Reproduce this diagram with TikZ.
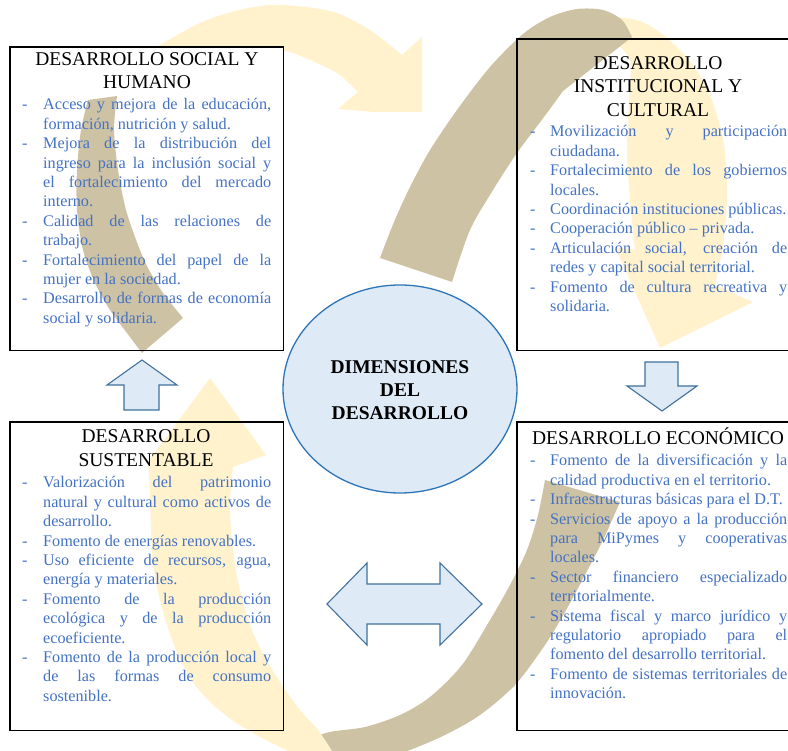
\documentclass[tikz,border=0pt]{standalone}
\usepackage{fontspec}
\setmainfont{Liberation Serif}
\usetikzlibrary{shapes.geometric}
\definecolor{yel}{RGB}{255,242,204}
\definecolor{tanc}{RGB}{205,194,163}
\definecolor{bodyblue}{RGB}{68,114,196}
\definecolor{lblue}{RGB}{222,235,247}
\definecolor{arrowedge}{RGB}{65,113,156}
\definecolor{elledge}{RGB}{46,117,182}
\newlength\jw
\newcommand\J[1]{\makebox[\jw][s]{#1}}
\tikzset{
  boxline/.style={draw=black, line width=1.5pt},
  ttl/.style={anchor=base, inner sep=0pt, font=\fontsize{19.5}{23}\selectfont},
  ctr/.style={anchor=base, inner sep=0pt, font=\bfseries\fontsize{19.5}{23}\selectfont},
  body/.style={anchor=base west, inner sep=0pt, text=bodyblue, font=\fontsize{16.2}{19.4}\selectfont},
  blk/.style={fill=lblue, draw=arrowedge, line width=1.1pt, line join=miter},
}
\begin{document}
\begin{tikzpicture}[x=1pt,y=-1pt]
\useasboundingbox (0,0) rectangle (788,751);
\clip (0,0) rectangle (788,751);
\fill[white] (0,0) rectangle (788,751);

% yellow top band (clipped head)
\begin{scope}
\clip (0,0) rectangle (422,112);
\fill[yel] plot[smooth] coordinates {(150,52) (165,42) (200,23) (235,11) (270,5) (305,7) (337,13) (370,30) (402,55)}
  -- (422,37) -- (447,118) -- (338,109)
  -- plot[smooth] coordinates {(358,92) (337,73) (303,57) (283,51) (250,56) (200,72) (160,92)} -- cycle;
\end{scope}

% boxes (fill of top-left hides the yellow band)
\node[fill=white, draw=none, inner sep=0pt, minimum width=273pt, minimum height=303pt, anchor=north west] (tl) at (10,47) {};
\node[draw=none, inner sep=0pt, minimum width=283pt, minimum height=311pt, anchor=north west] (tr) at (517,39) {};
\node[draw=none, inner sep=0pt, minimum width=273pt, minimum height=308pt, anchor=north west] (bl) at (10,422) {};
\node[draw=none, inner sep=0pt, minimum width=283pt, minimum height=308pt, anchor=north west] (br) at (517,422) {};

% tan left band
\fill[tanc] plot[smooth] coordinates {(88,100) (81,130) (77,170) (77,210) (83,250) (95,283) (110,310) (127,333)}
  -- (142,353) -- (183,318)
  -- plot[smooth] coordinates {(183,318) (163,293) (148,268) (138,245) (126,210) (118,170) (114,130) (117,96)} -- cycle;

% yellow right band
\fill[yel] plot[smooth] coordinates {(605,16) (640,21) (667,38) (693,65) (712,100) (724,145) (727,195) (723,245) (715,285)}
  -- (753,302) -- (660,348) -- (615,247) -- (635,250)
  -- plot[smooth] coordinates {(635,250) (630,200) (627,150) (629,100) (630,60) (612,40)} -- cycle;

% tan top-right band
\fill[tanc] plot[smooth] coordinates {(380,258) (394,222) (410,187) (430,150) (457,110) (490,67) (523,34) (550,17) (577,9) (603,10) (622,20) (632,37)}
  -- (563,91)
  -- plot[smooth] coordinates {(563,91) (544,117) (517,153) (493,190) (470,230) (452,282)} -- cycle;

% tan bottom band
\fill[tanc] plot[smooth] coordinates {(545,480) (538,515) (527,550) (510,585) (490,620) (462,665) (430,697) (400,715) (365,727) (330,732) (310,740) (300,760)}
  -- (380,760)
  -- plot[smooth] coordinates {(380,760) (410,750) (445,735) (480,715) (515,685) (545,645) (565,612) (585,575) (603,540) (620,502)} -- cycle;

% yellow bottom-left band
\fill[yel] (210,378) -- (266,455) -- (233,467)
  -- plot[smooth] coordinates {(233,467) (230,500) (231,530) (235,565) (241,595) (250,625) (262,652) (280,682) (300,710) (318,730) (332,751) (340,765)}
  -- (310,765)
  -- plot[smooth] coordinates {(310,765) (290,752) (262,738) (235,722) (210,702) (190,678) (178,655) (168,628) (160,600) (153,565) (151,530) (150,490)}
  -- (148,462) -- cycle;

% box borders
\draw[boxline] (tl.north west) rectangle (tl.south east);
\draw[boxline] (tr.north west) rectangle (tr.south east);
\draw[boxline] (bl.north west) rectangle (bl.south east);
\draw[boxline] (br.north west) rectangle (br.south east);

% centre ellipse
\node[ellipse, fill=lblue, draw=elledge, line width=1.3pt, minimum width=234pt, minimum height=208pt, inner sep=0pt] (ctr) at (400,389) {};
\node[ctr] (c1) at (400,374) {DIMENSIONES};
\node[ctr] (c2) at (400,397) {DEL};
\node[ctr] (c3) at (400,420) {DESARROLLO};

% block arrows
\draw[blk] (142,360) -- (177,385) -- (159,385) -- (159,410) -- (124,410) -- (124,385) -- (107,385) -- cycle;
\draw[blk] (662,411) -- (697,386) -- (678,386) -- (678,362) -- (645,362) -- (645,386) -- (627,386) -- cycle;
\draw[blk] (327,604) -- (367,563) -- (367,584) -- (440,584) -- (440,563) -- (482,604) -- (440,645) -- (440,624) -- (367,624) -- (367,645) -- cycle;

% titles
\node[ttl] (tlt1) at (147,66) {DESARROLLO SOCIAL Y};
\node[ttl] (tlt2) at (147,89) {HUMANO};
\node[ttl] (trt1) at (658,70) {DESARROLLO};
\node[ttl] (trt2) at (658,93) {INSTITUCIONAL Y};
\node[ttl] (trt3) at (658,117) {CULTURAL};
\node[ttl] (blt1) at (146,443) {DESARROLLO};
\node[ttl] (blt2) at (146,467) {SUSTENTABLE};
\node[ttl] (brt1) at (658,445) {DESARROLLO ECONÓMICO};

% bodies
\node[body] (tlb) at (22,110) {\setlength\jw{228pt}\begin{tabular}[t]{@{}p{21pt}@{}l@{}}
- & \J{Acceso y mejora de la educación,}\\
  & formación, nutrición y salud.\\
- & \J{Mejora de la distribución del}\\
  & \J{ingreso para la inclusión social y}\\
  & \J{el fortalecimiento del mercado}\\
  & interno.\\
- & \J{Calidad de las relaciones de}\\
  & trabajo.\\
- & \J{Fortalecimiento del papel de la}\\
  & mujer en la sociedad.\\
- & \J{Desarrollo de formas de economía}\\
  & social y solidaria.
\end{tabular}};

\node[body] (trb) at (530,137) {\setlength\jw{237pt}\begin{tabular}[t]{@{}p{20pt}@{}l@{}}
- & \J{Movilización y participación}\\
  & ciudadana.\\
- & \J{Fortalecimiento de los gobiernos}\\
  & locales.\\
- & Coordinación instituciones públicas.\\
- & Cooperación público – privada.\\
- & \J{Articulación social, creación de}\\
  & redes y capital social territorial.\\
- & \J{Fomento de cultura recreativa y}\\
  & solidaria.
\end{tabular}};

\node[body] (blb) at (22,488) {\setlength\jw{228pt}\begin{tabular}[t]{@{}p{21pt}@{}l@{}}
- & \J{Valorización del patrimonio}\\
  & \J{natural y cultural como activos de}\\
  & desarrollo.\\
- & Fomento de energías renovables.\\
- & \J{Uso eficiente de recursos, agua,}\\
  & energía y materiales.\\
- & \J{Fomento de la producción}\\
  & \J{ecológica y de la producción}\\
  & ecoeficiente.\\
- & \J{Fomento de la producción local y}\\
  & \J{de las formas de consumo}\\
  & sostenible.
\end{tabular}};

\node[body] (brb) at (530,466) {\setlength\jw{237pt}\begin{tabular}[t]{@{}p{20pt}@{}l@{}}
- & \J{Fomento de la diversificación y la}\\
  & calidad productiva en el territorio.\\
- & Infraestructuras básicas para el D.T.\\
- & \J{Servicios de apoyo a la producción}\\
  & \J{para MiPymes y cooperativas}\\
  & locales.\\
- & \J{Sector financiero especializado}\\
  & territorialmente.\\
- & \J{Sistema fiscal y marco jurídico y}\\
  & \J{regulatorio apropiado para el}\\
  & fomento del desarrollo territorial.\\
- & \J{Fomento de sistemas territoriales de}\\
  & innovación.
\end{tabular}};
\end{tikzpicture}
\end{document}
